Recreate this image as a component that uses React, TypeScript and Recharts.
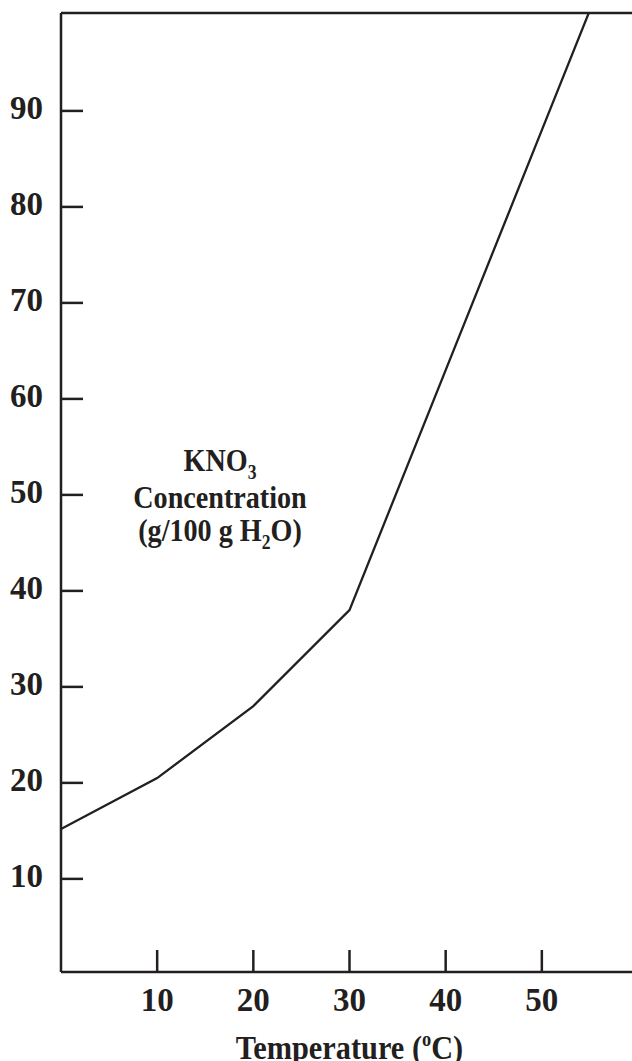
import { LineChart, Line, XAxis, YAxis, ReferenceLine } from "recharts";

const temperatures = [0, 10, 20, 30, 40, 50, 55];
const concentrations = [15.2, 20.5, 28, 38, 63, 88, 100.5];
const xTicks = [10, 20, 30, 40, 50];
const yTicks = [10, 20, 30, 40, 50, 60, 70, 80, 90];

const data = temperatures.map((t, i) => ({ t, c: concentrations[i] }));

const INK = "#231f20";
const FONT = '"Liberation Serif", "Times New Roman", serif';

const YTick = ({ x, y, payload }: any) => (
  <g>
    <line x1={x + 18} x2={x + 40} y1={y} y2={y} stroke={INK} strokeWidth={2.5} />
    <text x={x} y={y} dy={8} textAnchor="end" fontFamily={FONT} fontWeight="bold" fontSize={33} fill={INK}>
      {payload.value}
    </text>
  </g>
);

const XTick = ({ x, y, payload }: any) => (
  <g>
    <line x1={x} x2={x} y1={y} y2={y - 22} stroke={INK} strokeWidth={2.5} />
    <text x={x} y={y + 39} textAnchor="middle" fontFamily={FONT} fontWeight="bold" fontSize={33} fill={INK}>
      {payload.value}
    </text>
  </g>
);

const XTitle = ({ viewBox }: any) => {
  const cx = viewBox.x + viewBox.width / 2;
  return (
    <text
      transform={`translate(${cx},1059) scale(0.92,1)`}
      textAnchor="middle"
      fontFamily={FONT}
      fontWeight="bold"
      fontSize={33}
      fill={INK}
    >
      Temperature (<tspan fontSize={20} dy={-13}>o</tspan>
      <tspan dy={13}>C)</tspan>
    </text>
  );
};

const YTitle = () => {
  const props = { textAnchor: "middle" as const, fontFamily: FONT, fontWeight: "bold", fontSize: 32, fill: INK };
  return (
    <g>
      <text transform="translate(220,471) scale(0.88,1)" {...props}>
        KNO<tspan fontSize={20} dy={8}>3</tspan>
      </text>
      <text transform="translate(220,508) scale(0.88,1)" {...props}>
        Concentration
      </text>
      <text transform="translate(220,541) scale(0.88,1)" {...props}>
        (g/100 g H<tspan fontSize={20} dy={8}>2</tspan>
        <tspan dy={-8}>O)</tspan>
      </text>
    </g>
  );
};

export default function App() {
  return (
    <div style={{ position: "absolute", left: 0, top: 0, width: 632, height: 1061, overflow: "hidden", background: "#fff" }}>
      <LineChart width={660} height={1061} data={data} margin={{ top: 13, right: 22, bottom: 0, left: 0 }}>
        <XAxis
          dataKey="t"
          type="number"
          domain={[0, 60]}
          allowDataOverflow
          ticks={xTicks}
          tickSize={0}
          tickMargin={0}
          tick={<XTick />}
          height={89}
          axisLine={{ stroke: INK, strokeWidth: 2.5 }}
          label={{ content: <XTitle /> }}
        />
        <YAxis
          type="number"
          domain={[0.3, 100.2]}
          allowDataOverflow
          ticks={yTicks}
          tickSize={0}
          tickMargin={18}
          tick={<YTick />}
          width={61}
          axisLine={{ stroke: INK, strokeWidth: 2.5 }}
          label={{ content: <YTitle /> }}
        />
        <ReferenceLine y={100.2} stroke={INK} strokeWidth={2.5} />
        <Line
          dataKey="c"
          type="linear"
          stroke={INK}
          strokeWidth={2.3}
          dot={false}
          isAnimationActive={false}
        />
      </LineChart>
    </div>
  );
}
